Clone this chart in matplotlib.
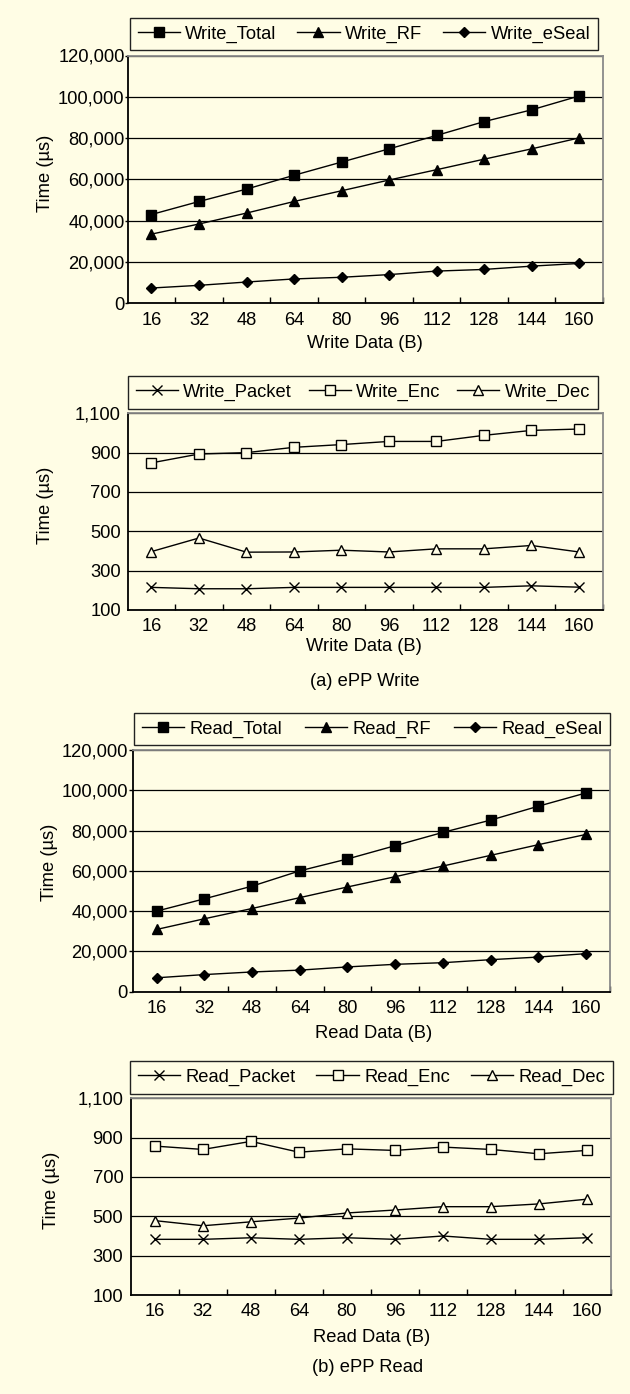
import matplotlib
matplotlib.use('Agg')
import matplotlib.pyplot as plt
from matplotlib.ticker import StrMethodFormatter

plt.rcParams['font.family'] = ['Liberation Sans', 'DejaVu Sans']
plt.rcParams['font.size'] = 13.2

BG = '#FFFDE5'
W, H = 630, 1394

data_sizes = ['16', '32', '48', '64', '80', '96', '112', '128', '144', '160']

# (a) ePP Write, totals
write_total = [43000, 49300, 55300, 62000, 68400, 74800, 81300, 88000, 93700, 100400]
write_rf = [33500, 38400, 43700, 49300, 54500, 59700, 64700, 69800, 74800, 80100]
write_eseal = [7400, 8700, 10300, 11800, 12600, 13900, 15600, 16400, 18000, 19300]

# (a) ePP Write, components
write_packet = [215, 208, 208, 215, 215, 215, 215, 215, 223, 216]
write_enc = [848, 893, 900, 927, 941, 957, 957, 988, 1013, 1020]
write_dec = [397, 466, 394, 395, 404, 395, 411, 411, 428, 395]

# (b) ePP Read, totals
read_total = [40000, 46100, 52400, 60000, 65900, 72500, 79100, 85200, 92100, 98700]
read_rf = [30900, 36200, 41300, 46700, 52000, 57100, 62400, 67700, 73000, 78100]
read_eseal = [6900, 8500, 9800, 10700, 12300, 13600, 14400, 15900, 17200, 18900]

# (b) ePP Read, components
read_packet = [383, 383, 391, 383, 391, 383, 400, 383, 383, 391]
read_enc = [857, 840, 881, 826, 843, 835, 852, 840, 818, 835]
read_dec = [478, 452, 472, 491, 517, 532, 549, 549, 563, 587]


def px_axes(fig, left, top, right, bottom):
    """axes from pixel edges (origin top-left)"""
    return fig.add_axes([left / W, 1 - bottom / H, (right - left) / W, (bottom - top) / H])


def px_text(fig, x, y, s, **kw):
    fig.text(x / W, 1 - y / H, s, ha='center', va='center', **kw)


def style_axes(ax, ymin, ymax, ystep, ytick_len, ypad):
    n = len(data_sizes)
    ax.set_facecolor(BG)
    ax.set_xlim(-0.5, n - 0.5)
    ax.set_xticks(range(n))
    ax.set_xticklabels(data_sizes)
    ax.set_xticks([i + 0.5 for i in range(n)], minor=True)
    ax.tick_params(axis='x', which='major', length=0, pad=6)
    ax.tick_params(axis='x', which='minor', direction='in', length=4.3,
                   width=1.0, color='black')
    ax.set_ylim(ymin, ymax)
    ax.set_yticks(range(ymin, ymax + 1, ystep))
    ax.yaxis.set_major_formatter(StrMethodFormatter('{x:,.0f}'))
    ax.tick_params(axis='y', length=ytick_len, width=1.0, pad=ypad, color='black')
    ax.set_axisbelow(True)
    ax.yaxis.grid(True, color='black', lw=0.9)
    for side in ('left', 'bottom'):
        ax.spines[side].set_color('black')
        ax.spines[side].set_linewidth(1.3)
    for side in ('top', 'right'):
        ax.spines[side].set_color('#8a8a8a')
        ax.spines[side].set_linewidth(1.3)


def add_legend(fig, handles, left, top, right, bottom):
    leg = fig.legend(
        handles=handles, loc='center',
        bbox_to_anchor=(left / W, 1 - bottom / H, (right - left) / W, (bottom - top) / H),
        mode='expand', ncol=3, handlelength=2.3, handletextpad=0.3,
        borderpad=0.42, borderaxespad=0, fancybox=False, edgecolor='#222222',
        facecolor=BG, framealpha=1,
    )
    leg.get_frame().set_linewidth(1.0)
    return leg


def plot_series(ax, values, label, marker, ms, filled=True, mew=1.0):
    x = range(len(values))
    face = 'black' if filled else BG
    line, = ax.plot(x, values, color='black', lw=1.0, marker=marker, ms=ms,
                    mfc=face, mec='black', mew=mew, label=label, zorder=5,
                    clip_on=False)
    return line


fig = plt.figure(figsize=(W / 100, H / 100), dpi=100)
fig.patch.set_facecolor(BG)

# chart 1: write totals
ax1 = px_axes(fig, 127.7, 55.5, 603, 303.3)
style_axes(ax1, 0, 120000, 20000, 2, 0.3)
h1 = [
    plot_series(ax1, write_total, 'Write_Total', 's', 7.5),
    plot_series(ax1, write_rf, 'Write_RF', '^', 7.2),
    plot_series(ax1, write_eseal, 'Write_eSeal', 'D', 5.3),
]
add_legend(fig, h1, 130, 18, 598, 50)
px_text(fig, 45, 173, 'Time (µs)', rotation=90)
px_text(fig, 365, 343, 'Write Data (B)')

# chart 2: write components
ax2 = px_axes(fig, 127.7, 413.3, 602.7, 610)
style_axes(ax2, 100, 1100, 200, 0, 5)
h2 = [
    plot_series(ax2, write_packet, 'Write_Packet', 'x', 7),
    plot_series(ax2, write_enc, 'Write_Enc', 's', 7.3, filled=False),
    plot_series(ax2, write_dec, 'Write_Dec', '^', 7, filled=False),
]
add_legend(fig, h2, 128, 376.7, 597.7, 408)
px_text(fig, 45, 505, 'Time (µs)', rotation=90)
px_text(fig, 363.5, 646.7, 'Write Data (B)')
px_text(fig, 365, 681.7, '(a) ePP Write')

# chart 3: read totals
ax3 = px_axes(fig, 132.7, 750, 610, 991.7)
style_axes(ax3, 0, 120000, 20000, 3, 0.5)
h3 = [
    plot_series(ax3, read_total, 'Read_Total', 's', 7.5),
    plot_series(ax3, read_rf, 'Read_RF', '^', 7.2),
    plot_series(ax3, read_eseal, 'Read_eSeal', 'D', 5.3),
]
add_legend(fig, h3, 134, 713.3, 610, 745)
px_text(fig, 50, 862, 'Time (µs)', rotation=90)
px_text(fig, 374, 1034, 'Read Data (B)')

# chart 4: read components
ax4 = px_axes(fig, 131, 1098.3, 610.7, 1295)
style_axes(ax4, 100, 1100, 200, 0, 5.5)
h4 = [
    plot_series(ax4, read_packet, 'Read_Packet', 'x', 7),
    plot_series(ax4, read_enc, 'Read_Enc', 's', 7.3, filled=False),
    plot_series(ax4, read_dec, 'Read_Dec', '^', 7, filled=False),
]
add_legend(fig, h4, 130, 1061.7, 613, 1093)
px_text(fig, 52, 1190.7, 'Time (µs)', rotation=90)
px_text(fig, 371.5, 1337, 'Read Data (B)')
px_text(fig, 367.5, 1367, '(b) ePP Read')

fig.savefig('out.png', dpi=100, facecolor=BG)
